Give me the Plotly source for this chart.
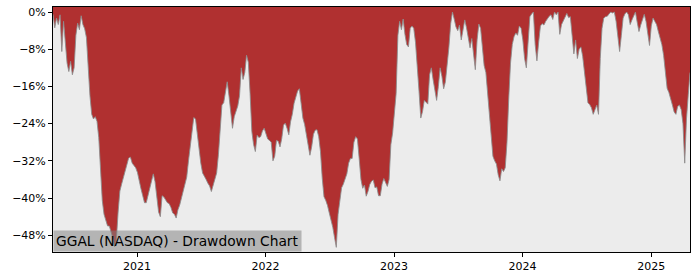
import pandas as pd
import plotly.graph_objects as go

# Drawdown readings (%), one every 5 calendar days starting 2020-05-07
start_date = "2020-05-07"
drawdown = [
    -0.5, -3.4, -1.3, -2.7, -0.6, -8.5, -2.0, -6.0, -11.0, -12.8,
    -10.6, -13.5, -12.0, -5.0, -2.4, -3.8, -0.8, -2.7, -3.6, -5.5,
    -13.0, -18.0, -22.0, -23.0, -22.5, -23.5, -27.0, -34.0, -40.5, -43.5,
    -44.8, -46.0, -46.0, -47.2, -48.6, -50.5, -49.0, -43.0, -38.5, -37.0,
    -35.5, -33.8, -32.6, -31.4, -31.2, -32.5, -33.0, -33.5, -34.5, -36.5,
    -38.0, -39.5, -41.0, -41.0, -39.5, -38.0, -36.5, -34.8, -36.5, -40.0,
    -43.0, -44.0, -39.5, -39.8, -40.3, -41.0, -41.2, -42.0, -43.2, -43.5,
    -44.3, -42.5, -41.5, -40.0, -38.3, -36.5, -35.5, -32.0, -29.0, -25.5,
    -22.7, -23.0, -26.5, -29.5, -32.5, -34.6, -35.2, -36.0, -36.8, -37.4,
    -38.6, -37.3, -35.8, -34.6, -30.7, -25.0, -20.0, -19.5, -17.0, -15.0,
    -18.0, -22.0, -25.0, -22.5, -21.2, -20.2, -18.0, -12.0, -14.5, -13.0,
    -9.3, -10.8, -17.5, -25.7, -28.5, -30.0, -26.5, -27.0, -26.8, -25.6,
    -25.0, -26.3, -27.3, -27.6, -28.0, -32.0, -31.0, -27.6, -27.8, -29.0,
    -27.2, -24.3, -23.9, -25.0, -26.4, -23.6, -22.0, -19.6, -18.3, -17.0,
    -16.5, -20.0, -22.8, -24.2, -26.5, -29.0, -30.8, -29.0, -26.3, -25.4,
    -25.3, -26.8, -30.0, -35.7, -39.7, -40.5, -41.6, -43.2, -44.6, -46.3,
    -48.5, -50.6, -43.5, -40.0, -37.8, -37.0, -35.6, -34.8, -32.5, -31.5,
    -31.5, -28.0, -26.8, -27.3, -31.5, -36.0, -37.9, -37.2, -39.6, -38.6,
    -37.1, -36.4, -36.1, -37.8, -37.6, -39.5, -39.5, -37.0, -35.8, -36.8,
    -37.5, -36.0, -28.5, -26.0, -21.0, -17.5, -5.0, -2.0, -3.8, -1.5,
    -4.8, -7.0, -7.5, -3.5, -3.0, -3.5, -6.5, -11.0, -17.0, -22.8,
    -21.4, -19.0, -19.3, -19.8, -13.5, -12.0, -14.5, -16.4, -19.0, -16.0,
    -12.0, -13.8, -16.5, -15.0, -11.5, -7.5, -2.5, 0.0, -1.5, -3.2,
    -4.0, -2.8, -6.0, -4.0, -1.7, -3.4, -5.6, -7.7, -5.7, -9.5,
    -12.4, -6.0, -2.6, -3.5, -7.5, -11.5, -13.0, -17.5, -23.0, -28.0,
    -31.0, -32.0, -32.7, -35.0, -36.3, -33.7, -34.3, -33.5, -28.0, -18.5,
    -11.0, -7.0, -5.3, -4.5, -5.0, -3.0, -3.5, -6.0, -10.0, -12.0,
    -5.5, -1.0, -0.4, 0.0, -7.0, -10.5, -6.5, -3.0, -2.5, -2.8,
    -2.0, -1.4, -0.9, -0.6, -1.6, 0.0, -0.6, 0.0, -4.8, -2.7,
    -1.8, -0.8, -0.3, -1.2, -1.0, -5.0, -9.0, -6.0, -10.0, -8.0,
    -7.5, -9.5, -12.5, -16.0, -19.5, -19.9, -20.6, -22.0, -20.8, -20.0,
    -22.0, -10.0, -3.5, -1.3, -1.0, -0.9, -0.4, 0.0, -0.2, 0.0,
    -2.0, -5.0, -8.5, -5.0, -1.3, -0.4, 0.0, -0.6, -2.7, -1.7,
    -0.9, 0.0, -2.2, -4.2, -2.8, -1.5, -0.5, -2.0, -5.2, -7.2,
    -3.0, -1.3, -2.0, -2.7, -4.2, -5.6, -7.0, -9.3, -12.5, -16.4,
    -17.3, -19.0, -20.0, -21.5, -22.0, -20.3, -20.0, -21.0, -24.0, -32.5,
    -23.0, -17.8, -13.0,
]
dates = pd.date_range(start_date, periods=len(drawdown), freq="5D")

y_tick_vals = [0, -8, -16, -24, -32, -40, -48]
y_tick_text = ["0%", "\u22128%", "\u221216%", "\u221224%", "\u221232%", "\u221240%", "\u221248%"]
x_tick_vals = ["2021-01-01", "2022-01-01", "2023-01-01", "2024-01-01", "2025-01-01"]
x_tick_text = ["2021", "2022", "2023", "2024", "2025"]
title_text = "GGAL (NASDAQ) - Drawdown Chart"

y_top = 1.08
y_bottom = -51.6

fig = go.Figure()
# upper boundary for the red fill (top of the plotting area)
fig.add_trace(go.Scatter(x=dates, y=[y_top + 5] * len(dates), mode="lines",
                         line=dict(width=0, color="rgba(0,0,0,0)"),
                         hoverinfo="skip", showlegend=False))
fig.add_trace(go.Scatter(x=dates, y=drawdown, mode="lines",
                         fill="tonexty", fillcolor="#b03030",
                         line=dict(color="rgba(140,140,140,0.85)", width=1),
                         showlegend=False))

axis_common = dict(showline=True, mirror=True, linecolor="black", linewidth=1,
                   ticks="outside", ticklen=4, tickwidth=1, tickcolor="black",
                   showgrid=False, zeroline=False,
                   tickfont=dict(family="DejaVu Sans", size=11, color="black"))

fig.update_xaxes(range=[dates[0], dates[-1]], tickvals=x_tick_vals, ticktext=x_tick_text,
                 **axis_common)
fig.update_yaxes(range=[y_bottom, y_top], tickvals=y_tick_vals, ticktext=y_tick_text,
                 **axis_common)

fig.add_annotation(text=title_text, xref="paper", yref="paper", x=0, y=0,
                   xanchor="left", yanchor="bottom", showarrow=False,
                   font=dict(family="DejaVu Sans", size=13.8, color="black"),
                   bgcolor="rgba(128,128,128,0.52)", borderpad=2)

fig.update_layout(width=700, height=280, margin=dict(l=53, r=10, t=7, b=28),
                  paper_bgcolor="white", plot_bgcolor="#ececec")

fig.write_html("out.html")
